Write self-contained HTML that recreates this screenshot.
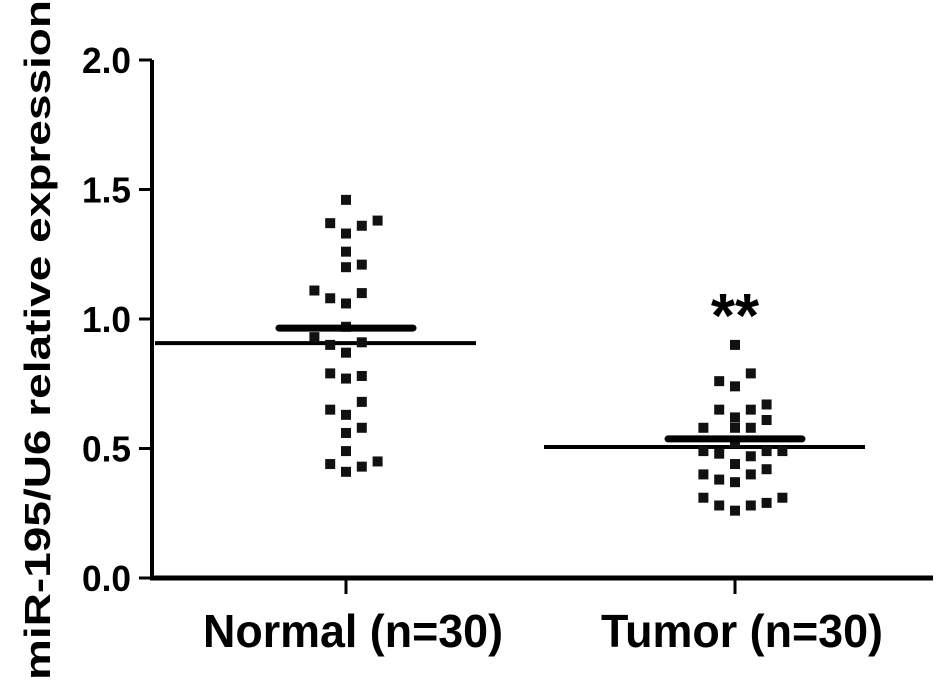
<!DOCTYPE html>
<html><head><meta charset="utf-8"><style>
html,body{margin:0;padding:0;background:#fff;}
svg{display:block;font-family:"Liberation Sans",Arial,sans-serif;font-weight:bold;}
</style></head><body>
<svg id="chart" width="945" height="693" viewBox="0 0 945 693" xmlns="http://www.w3.org/2000/svg">
<text transform="translate(50,340) rotate(-90)" text-anchor="middle" font-size="36" textLength="680" lengthAdjust="spacingAndGlyphs">miR-195/U6 relative expression</text>
<g id="axes"></g>
<g id="marks"></g>
</svg>
<script>
const categories = ["Normal (n=30)", "Tumor (n=30)"];
const normalValues = [1.46,1.37,1.33,1.36,1.38,1.26,1.20,1.21,1.11,1.08,1.06,1.10,0.97,0.93,0.90,0.91,0.87,0.79,0.77,0.78,0.68,0.65,0.63,0.56,0.58,0.49,0.44,0.41,0.43,0.45];
const normalCols   = [0,-1,0,1,2,0,0,1,-2,-1,0,1,0,-2,-1,1,0,-1,0,1,1,-1,0,0,1,0,-1,0,1,2];
const tumorValues = [0.90,0.76,0.74,0.79,0.65,0.62,0.65,0.67,0.58,0.58,0.58,0.61,0.49,0.48,0.52,0.47,0.49,0.49,0.44,0.40,0.38,0.37,0.40,0.42,0.31,0.28,0.26,0.28,0.29,0.31];
const tumorCols   = [0,-1,0,1,-1,0,1,2,-2,0,1,2,-2,-1,0,1,2,3,0,-2,-1,0,1,2,-2,-1,0,1,2,3];
const means = [0.965, 0.537];
const refLines = [0.907, 0.506];
const yTicks = [0, 0.5, 1.0, 1.5, 2.0];
const yTickLabels = ["0.0","0.5","1.0","1.5","2.0"];

const NS="http://www.w3.org/2000/svg";
const y0=578, yTop=60, yMax=2.0;
function yScale(v){return y0-(v/yMax)*(y0-yTop);}
const catX=[346,735];
function xScale(i){return catX[i];}
function mk(tag,attrs,parent){const e=document.createElementNS(NS,tag);for(const k in attrs)e.setAttribute(k,attrs[k]);parent.appendChild(e);return e;}
const axes=document.getElementById('axes'), marks=document.getElementById('marks');

let e=mk('line',{x1:152,y1:yTop,x2:152,y2:y0+2,stroke:'#000','stroke-width':4},axes);


e=mk('line',{x1:150,y1:y0,x2:933,y2:y0,stroke:'#000','stroke-width':5},axes);


yTicks.forEach((t,i)=>{
  const y=yScale(t);
  let l=mk('line',{x1:139,y1:y,x2:152,y2:y,stroke:'#000','stroke-width':3},axes);
  
  
  let tx=mk('text',{x:131,y:y+13,'text-anchor':'end','font-size':36,textLength:49,lengthAdjust:'spacingAndGlyphs'},axes);
  tx.textContent=yTickLabels[i];
  
  
});
const labelW=[300,282];
categories.forEach((c,i)=>{
  const x=xScale(i);
  let l=mk('line',{x1:x,y1:y0,x2:x,y2:594,stroke:'#000','stroke-width':3},axes);
  
  
  let tx=mk('text',{x:x+7,y:647,'text-anchor':'middle','font-size':46,textLength:labelW[i],lengthAdjust:'spacingAndGlyphs'},axes);
  tx.textContent=c;
  
  
});
const series=[[normalValues,normalCols],[tumorValues,tumorCols]];
series.forEach((s,i)=>{
  const cx=xScale(i);
  let r=mk('line',{x1:cx-191,y1:yScale(refLines[i]),x2:cx+130,y2:yScale(refLines[i]),stroke:'#000','stroke-width':4},marks);
  
  
  s[0].forEach((v,j)=>{
    let p=mk('rect',{x:cx+s[1][j]*15.8-5,y:yScale(v)-5,width:10,height:10,fill:'#111'},marks);
    
    
  });
  let m=mk('line',{x1:cx-67,y1:yScale(means[i]),x2:cx+67,y2:yScale(means[i]),stroke:'#000','stroke-width':7,'stroke-linecap':'round'},marks);
  
  
});
let st=mk('text',{x:xScale(1),y:337,'text-anchor':'middle','font-size':62},marks);
st.textContent='**';


</script>
</body></html>
